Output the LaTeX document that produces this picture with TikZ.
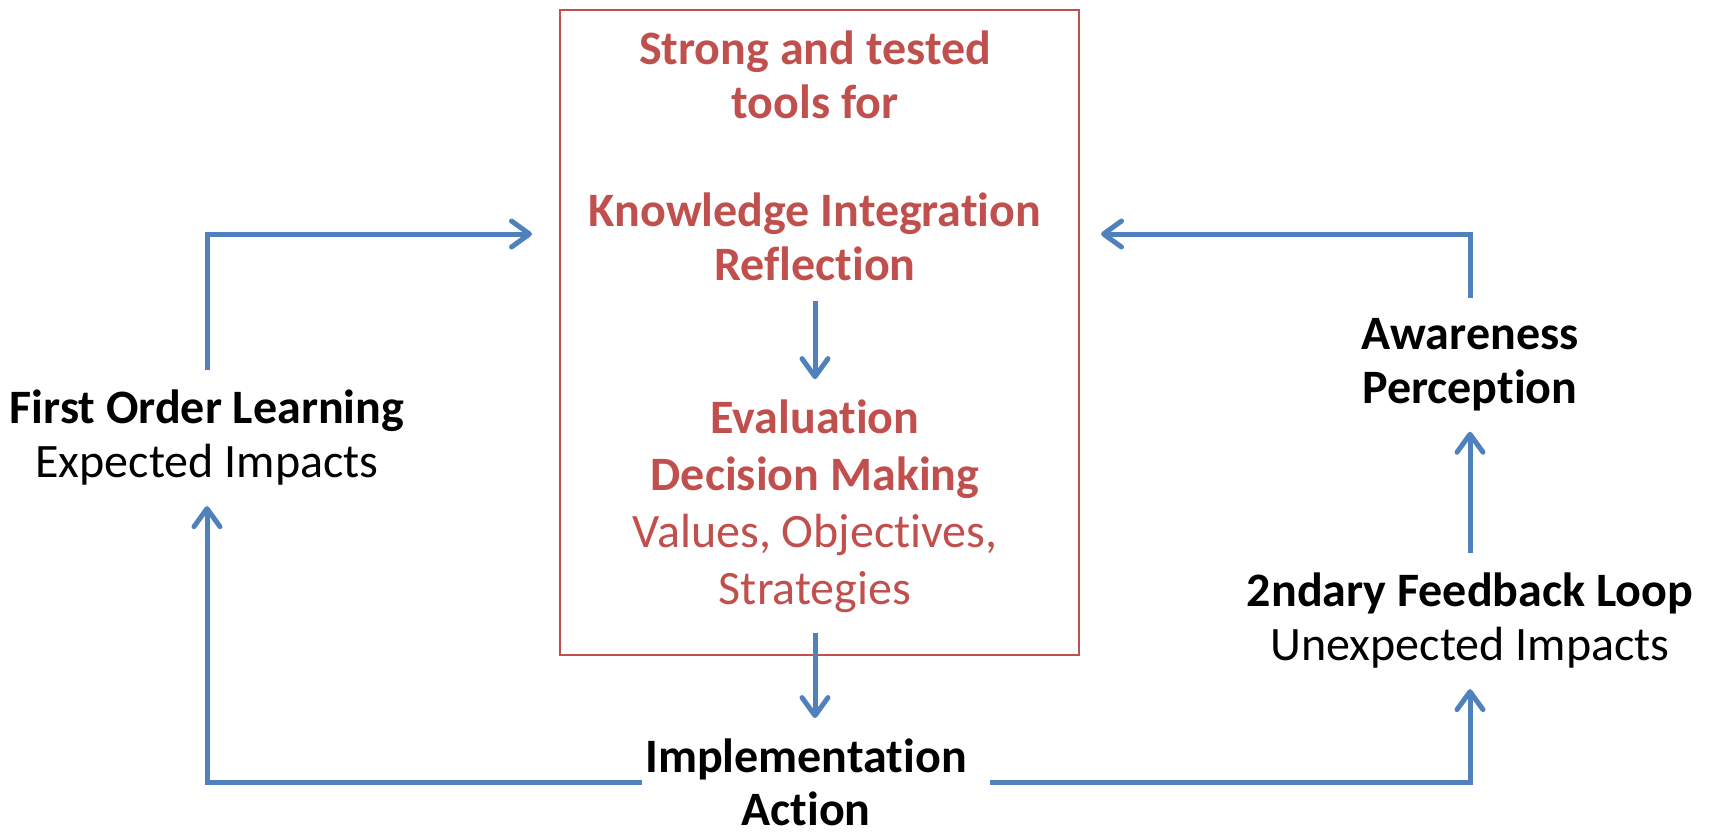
\documentclass[tikz,border=0pt]{standalone}
\usepackage{fontspec}
\setmainfont{Carlito}[Ligatures=NoCommon]
\usetikzlibrary{arrows.meta}
\definecolor{loopblue}{HTML}{4F81BD}
\definecolor{toolred}{HTML}{C0504D}

\begin{document}
\begin{tikzpicture}[x=0.5pt,y=0.5pt,yscale=-1,xscale=1,
  flow/.style={draw=loopblue, line width=2.5pt, -{Straight Barb[length=9pt,width=13pt,line cap=round,line join=round]}},
  lbl/.style={align=center, font=\fontsize{24pt}{27pt}\selectfont, inner xsep=2pt, inner ysep=10pt},
  redlbl/.style={lbl, text=toolred}]
\useasboundingbox (0,0) rectangle (1709,832);

%Shape: Rectangle [box]
\node[draw=toolred, line width=1pt, minimum width=259.5pt, minimum height=322.5pt, inner sep=0pt] (box) at (819.5,332.5) {};

% Text Node
\node[redlbl, font=\fontsize{24pt}{27pt}\selectfont\bfseries] (tools) at (815,156) {Strong and tested\\tools for\\\mbox{}\\Knowledge Integration\\Reflection};
% Text Node
\node[redlbl, font=\fontsize{24pt}{28.5pt}\selectfont] (eval) at (815,506) {\textbf{Evaluation}\\\textbf{Decision Making}\\Values, Objectives,\\Strategies};
% Text Node
\node[lbl, font=\fontsize{24pt}{26.5pt}\selectfont\bfseries, inner xsep=1.5pt, inner ysep=1pt] (impl) at (806,782) {Implementation\\Action};
% Text Node
\node[lbl] (learn) at (207,438) {\textbf{First Order Learning}\\Expected Impacts};
% Text Node
\node[lbl, font=\fontsize{24pt}{27pt}\selectfont\bfseries] (aware) at (1470,365) {Awareness\\Perception};
% Text Node
\node[lbl] (loop2) at (1470,621) {\textbf{2ndary Feedback Loop}\\Unexpected Impacts};

% entry points at the box
\coordinate (inL) at (532,234);
\coordinate (inR) at (1101,234);

%Straight Lines
\draw[flow] (tools.south) -- (eval.north);
\draw[flow, shorten >=9pt] (eval.south) -- (eval.south |- impl.north);
\draw[flow] (impl.west) -| (learn.south);
\draw[flow] ([xshift=10pt]impl.east) -| (loop2.south);
\draw[flow] (learn.north) |- (inL);
\draw[flow] (loop2.north) -- (aware.south);
\draw[flow] (aware.north) |- (inR);

\end{tikzpicture}
\end{document}
